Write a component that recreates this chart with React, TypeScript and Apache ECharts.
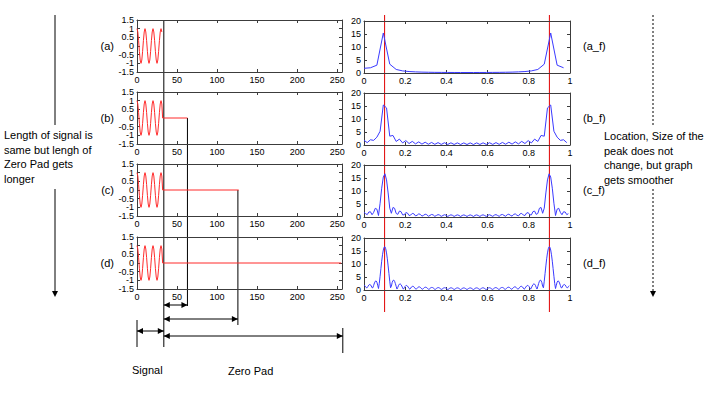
import React, { useEffect, useRef } from "react";
import * as echarts from "echarts";

// time-domain signal (32 samples) (a)-(d)
const signal = [1, 0.81, 0.31, -0.31, -0.81, -1, -0.81, -0.31, 0.31, 0.81, 1, 0.81, 0.31, -0.31, -0.81, -1,
  -0.81, -0.31, 0.31, 0.81, 1, 0.81, 0.31, -0.31, -0.81, -1, -0.81, -0.31, 0.31, 0.81, 1, 0.81];
// total length after zero padding for (a)..(d)
const padLengths = [32, 64, 128, 256];
const panelLabels = ["(a)", "(b)", "(c)", "(d)"];
const spectrumLabels = ["(a_f)", "(b_f)", "(c_f)", "(d_f)"];
const timeTicks = [0, 50, 100, 150, 200, 250];
const freqTicks = [0, 0.2, 0.4, 0.6, 0.8, 1];
const ampTicks = [-1.5, -1, -0.5, 0, 0.5, 1, 1.5];
const magTicks = [0, 5, 10, 15, 20];
const peakFreqs = [0.1, 0.9];
// annotation positions on the time axis (samples)
const markSignalEnd = 33.5;
const markPadEnds = [63, 126, 257];

// magnitude spectra (a_f)..(d_f)
const spectrumA = [1.81, 2.01, 3.01, 15.39, 3.39, 1.36, 0.81, 0.56, 0.43, 0.34, 0.29, 0.25, 0.23, 0.21, 0.2, 0.19,
  0.19, 0.19, 0.2, 0.21, 0.23, 0.25, 0.29, 0.34, 0.43, 0.56, 0.81, 1.36, 3.39, 15.39, 3.01, 2.01];
const spectrumB = [1.81, 0.91, 2.01, 1.78, 3.01, 5.29, 15.39, 14.27, 3.39, 3.67, 1.36, 2.26, 0.81, 1.7, 0.56, 1.39,
  0.43, 1.2, 0.34, 1.07, 0.29, 0.98, 0.25, 0.92, 0.23, 0.87, 0.21, 0.84, 0.2, 0.82, 0.19, 0.81,
  0.19, 0.81, 0.19, 0.82, 0.2, 0.84, 0.21, 0.87, 0.23, 0.92, 0.25, 0.98, 0.29, 1.07, 0.34, 1.2,
  0.43, 1.39, 0.56, 1.7, 0.81, 2.26, 1.36, 3.67, 3.39, 14.27, 15.39, 5.29, 3.01, 1.78, 2.01, 0.91];
const spectrumC = [1.81, 1.28, 0.91, 1.91, 2.01, 0.87, 1.78, 3.35, 3.01, 0.57, 5.29, 11.07, 15.39, 16.61, 14.27, 9.25,
  3.39, 1.43, 3.67, 3.35, 1.36, 1.01, 2.26, 2.08, 0.81, 0.85, 1.7, 1.52, 0.56, 0.75, 1.39, 1.22,
  0.43, 0.69, 1.2, 1.02, 0.34, 0.64, 1.07, 0.89, 0.29, 0.61, 0.98, 0.8, 0.25, 0.59, 0.92, 0.73,
  0.23, 0.58, 0.87, 0.68, 0.21, 0.57, 0.84, 0.64, 0.2, 0.57, 0.82, 0.61, 0.19, 0.58, 0.81, 0.59,
  0.19, 0.59, 0.81, 0.58, 0.19, 0.61, 0.82, 0.57, 0.2, 0.64, 0.84, 0.57, 0.21, 0.68, 0.87, 0.58,
  0.23, 0.73, 0.92, 0.59, 0.25, 0.8, 0.98, 0.61, 0.29, 0.89, 1.07, 0.64, 0.34, 1.02, 1.2, 0.69,
  0.43, 1.22, 1.39, 0.75, 0.56, 1.52, 1.7, 0.85, 0.81, 2.08, 2.26, 1.01, 1.36, 3.35, 3.67, 1.43,
  3.39, 9.25, 14.27, 16.61, 15.39, 11.07, 5.29, 0.57, 3.01, 3.35, 1.78, 0.87, 2.01, 1.91, 0.91, 1.28];
const spectrumD = [1.81, 1.66, 1.28, 0.85, 0.91, 1.43, 1.91, 2.13, 2.01, 1.54, 0.87, 0.86, 1.78, 2.71, 3.35, 3.49,
  3.01, 1.87, 0.57, 2.53, 5.29, 8.24, 11.07, 13.54, 15.39, 16.48, 16.61, 15.85, 14.27, 11.99, 9.25, 6.29,
  3.39, 0.85, 1.43, 2.88, 3.67, 3.8, 3.35, 2.47, 1.36, 0.37, 1.01, 1.8, 2.26, 2.35, 2.08, 1.52,
  0.81, 0.32, 0.85, 1.38, 1.7, 1.74, 1.52, 1.1, 0.56, 0.31, 0.75, 1.16, 1.39, 1.41, 1.22, 0.86,
  0.43, 0.31, 0.69, 1.02, 1.2, 1.2, 1.02, 0.71, 0.34, 0.31, 0.64, 0.93, 1.07, 1.06, 0.89, 0.61,
  0.29, 0.31, 0.61, 0.86, 0.98, 0.96, 0.8, 0.53, 0.25, 0.31, 0.59, 0.81, 0.92, 0.89, 0.73, 0.48,
  0.23, 0.32, 0.58, 0.78, 0.87, 0.83, 0.68, 0.44, 0.21, 0.32, 0.57, 0.76, 0.84, 0.8, 0.64, 0.4,
  0.2, 0.33, 0.57, 0.75, 0.82, 0.77, 0.61, 0.38, 0.19, 0.34, 0.58, 0.75, 0.81, 0.75, 0.59, 0.36,
  0.19, 0.36, 0.59, 0.75, 0.81, 0.75, 0.58, 0.34, 0.19, 0.38, 0.61, 0.77, 0.82, 0.75, 0.57, 0.33,
  0.2, 0.4, 0.64, 0.8, 0.84, 0.76, 0.57, 0.32, 0.21, 0.44, 0.68, 0.83, 0.87, 0.78, 0.58, 0.32,
  0.23, 0.48, 0.73, 0.89, 0.92, 0.81, 0.59, 0.31, 0.25, 0.53, 0.8, 0.96, 0.98, 0.86, 0.61, 0.31,
  0.29, 0.61, 0.89, 1.06, 1.07, 0.93, 0.64, 0.31, 0.34, 0.71, 1.02, 1.2, 1.2, 1.02, 0.69, 0.31,
  0.43, 0.86, 1.22, 1.41, 1.39, 1.16, 0.75, 0.31, 0.56, 1.1, 1.52, 1.74, 1.7, 1.38, 0.85, 0.32,
  0.81, 1.52, 2.08, 2.35, 2.26, 1.8, 1.01, 0.37, 1.36, 2.47, 3.35, 3.8, 3.67, 2.88, 1.43, 0.85,
  3.39, 6.29, 9.25, 11.99, 14.27, 15.85, 16.61, 16.48, 15.39, 13.54, 11.07, 8.24, 5.29, 2.53, 0.57, 1.87,
  3.01, 3.49, 3.35, 2.71, 1.78, 0.86, 0.87, 1.54, 2.01, 2.13, 1.91, 1.43, 0.91, 0.85, 1.28, 1.66];
const spectra = [spectrumA, spectrumB, spectrumC, spectrumD];

const leftNote = ["Length of signal is", "same but lengh of", "Zero Pad gets", "longer"];
const rightNote = ["Location, Size of the", "peak does not", "change, but graph", "gets smoother"];

const LEFT_TOPS = [20, 92, 164, 237];
const RIGHT_TOPS = [21, 93, 165, 238];
const LEFT_X = 137;
const RIGHT_X = 364;
const PH = 52;
const FRAME = "#3c3c3c";
const FONT = '"Liberation Sans", Arial, sans-serif';
const tickLabel = { fontSize: 9, fontFamily: FONT, color: "#000" };

export default function App() {
  const ref = useRef<HTMLDivElement>(null);
  useEffect(() => {
    if (!ref.current) return;
    const chart = echarts.init(ref.current, null, { renderer: "svg" });

    const grids = [
      ...LEFT_TOPS.map((t) => ({ left: LEFT_X, top: t, width: 205, height: PH })),
      ...RIGHT_TOPS.map((t) => ({ left: RIGHT_X, top: t, width: 206, height: PH })),
    ];
    const mkX = (g: number, left: boolean, pos: string, labels: boolean) => {
      const ticks = left ? timeTicks : freqTicks;
      return {
        type: "value",
        gridIndex: g,
        min: 0,
        max: left ? 256 : 1,
        position: pos,
        axisLine: { show: true, onZero: false, lineStyle: { color: FRAME, width: 1 } },
        axisTick: { show: true, inside: true, length: 3, customValues: ticks, lineStyle: { color: FRAME } },
        axisLabel: { show: labels, ...tickLabel, margin: 3, customValues: ticks },
        splitLine: { show: false },
      };
    };
    const mkY = (g: number, left: boolean, pos: string) => {
      const ticks = left ? ampTicks : magTicks;
      return {
        type: "value",
        gridIndex: g,
        min: left ? -1.5 : 0,
        max: left ? 1.5 : 20,
        position: pos,
        axisLine: { show: true, onZero: false, lineStyle: { color: FRAME, width: 1 } },
        axisTick: { show: true, inside: true, length: 3, customValues: ticks, lineStyle: { color: FRAME } },
        axisLabel: { show: false, customValues: ticks },
        splitLine: { show: false },
      };
    };
    const xAxis: any[] = [];
    const yAxis: any[] = [];
    for (let g = 0; g < 8; g++) {
      xAxis.push(mkX(g, g < 4, "bottom", true));
      yAxis.push(mkY(g, g < 4, "left"));
    }
    for (let g = 0; g < 8; g++) {
      xAxis.push(mkX(g, g < 4, "top", false));
      yAxis.push(mkY(g, g < 4, "right"));
    }

    const series: any[] = [];
    padLengths.forEach((N, i) => {
      const pts: number[][] = signal.map((v, n) => [n, v]);
      if (N > signal.length) pts.push([signal.length, 0], [N - 1, 0]);
      series.push({
        type: "line", xAxisIndex: i, yAxisIndex: i, data: pts, showSymbol: false,
        lineStyle: { color: "#ff2b2b", width: 1 }, silent: true,
      });
    });
    spectra.forEach((s, i) => {
      series.push({
        type: "line", xAxisIndex: 4 + i, yAxisIndex: 4 + i,
        data: s.map((v, k) => [k / s.length, v]), showSymbol: false,
        lineStyle: { color: "#3a3aff", width: 1 }, silent: true,
      });
    });

    chart.setOption({ animation: false, grid: grids, xAxis, yAxis, series });

    const px = (v: number) => chart.convertToPixel({ xAxisIndex: 0 }, v) as number;
    const fpx = (v: number) => chart.convertToPixel({ xAxisIndex: 4 }, v) as number;
    const ypx = (g: number, v = 0) => chart.convertToPixel({ yAxisIndex: g }, v) as number;

    const black = { stroke: "#000", lineWidth: 1 };
    const vline = (x: number, y1: number, y2: number, style: any = black) => ({
      type: "line", shape: { x1: x, y1, x2: x, y2 }, style, silent: true,
    });
    const head = (x: number, y: number, dir: string) => {
      const L = 6, W = 3;
      let pts: number[][];
      if (dir === "r") pts = [[x, y], [x - L, y - W], [x - L, y + W]];
      else if (dir === "l") pts = [[x, y], [x + L, y - W], [x + L, y + W]];
      else pts = [[x, y], [x - W, y - L], [x + W, y - L]];
      return { type: "polygon", shape: { points: pts }, style: { fill: "#000" }, silent: true };
    };
    const dblArrow = (x1: number, x2: number, y: number) => [
      { type: "line", shape: { x1, y1: y, x2, y2: y }, style: black, silent: true },
      head(x1, y, "l"),
      head(x2, y, "r"),
    ];
    const text = (t: string, x: number, y: number, align = "left", size = 11) => ({
      type: "text", x, y, silent: true,
      style: { text: t, fill: "#000", font: `${size}px ${FONT}`, textAlign: align, textVerticalAlign: "middle" },
    });

    const x0 = px(0);
    const xs = px(markSignalEnd);
    const xp = markPadEnds.map(px);
    const g: any[] = [];
    // y tick labels placed through each y axis
    for (let i = 0; i < 8; i++) {
      const left = i < 4;
      (left ? ampTicks : magTicks).forEach((v) =>
        g.push(text(String(v), (left ? LEFT_X : RIGHT_X) - 3, ypx(i, v), "right", 9))
      );
    }
    // red peak markers across spectra
    peakFreqs.forEach((f) => g.push(vline(fpx(f), 15, 312, { stroke: "#e00000", lineWidth: 1 })));
    // black guide lines
    g.push(vline(xs, LEFT_TOPS[0], 347));
    g.push(vline(xp[0], ypx(1), 306));
    g.push(vline(xp[1], ypx(2), 325));
    g.push(vline(xp[2], 328, 353));
    g.push(vline(x0, 320, 347));
    g.push(...dblArrow(xs, xp[0], 305));
    g.push(...dblArrow(xs, xp[1], 319));
    g.push(...dblArrow(x0, xs, 331));
    g.push(...dblArrow(xs, xp[2], 336));
    // side arrows
    g.push(vline(55, 15, 125));
    g.push(vline(55, 189, 292));
    g.push(head(55, 297, "d"));
    const dash = { stroke: "#000", lineWidth: 1, lineDash: [2, 2] };
    g.push(vline(653, 15, 125, dash));
    g.push(vline(653, 189, 292, dash));
    g.push(head(653, 297, "d"));
    // panel labels
    panelLabels.forEach((t, i) => g.push(text(t, 114, LEFT_TOPS[i] + PH / 2, "right")));
    spectrumLabels.forEach((t, i) => g.push(text(t, 583, RIGHT_TOPS[i] + PH / 2 - 1, "left")));
    leftNote.forEach((t, i) => g.push(text(t, 4, 135 + i * 14.6)));
    rightNote.forEach((t, i) => g.push(text(t, 604, 136 + i * 14.5)));
    g.push(text("Signal", 132, 370));
    g.push(text("Zero Pad", 228, 371));

    chart.setOption({ graphic: g });
    return () => chart.dispose();
  }, []);
  return (
    <div
      ref={ref}
      style={{ position: "fixed", left: 0, top: 0, width: 711, height: 397, background: "#fff" }}
    />
  );
}
